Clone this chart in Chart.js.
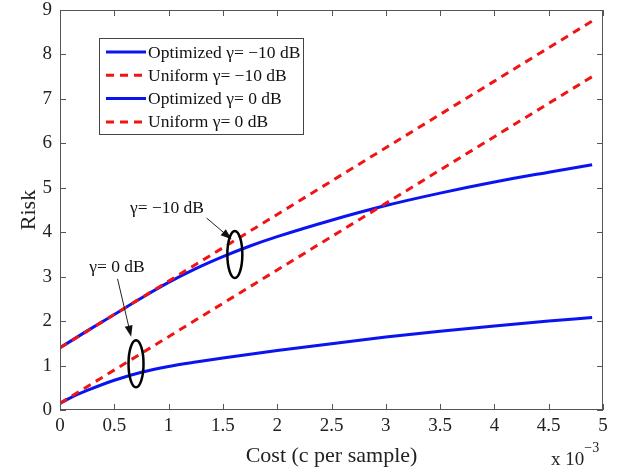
<!DOCTYPE html>
<html>
<head>
<meta charset="utf-8">
<script src="https://cdn.jsdelivr.net/npm/chart.js@4.4.1/dist/chart.umd.min.js"></script>
<style>
  html, body { margin: 0; padding: 0; background: #fff; }
  #wrap { width: 623px; height: 470px; }
</style>
</head>
<body>
<div id="wrap"><canvas id="riskChart"></canvas></div>
<script>
// Tick labels (cost in units of 10^-3)
const costTicks = [0, 0.5, 1, 1.5, 2, 2.5, 3, 3.5, 4, 4.5, 5];
const riskTicks = [0, 1, 2, 3, 4, 5, 6, 7, 8, 9];

// Optimized curves
const costOpt = [0, 0.25, 0.5, 0.75, 1.0, 1.25, 1.5, 1.75, 2.0, 2.5, 3.0, 3.5, 4.0, 4.5, 4.9];
const riskOptM10 = [1.40, 1.78, 2.15, 2.52, 2.87, 3.18, 3.45, 3.69, 3.90, 4.27, 4.60, 4.88, 5.13, 5.35, 5.52];
const costOpt0 = [0, 0.1, 0.25, 0.5, 0.75, 1.0, 1.25, 1.5, 2.0, 2.5, 3.0, 3.5, 4.0, 4.5, 4.9];
const riskOpt0 = [0.15, 0.28, 0.44, 0.67, 0.85, 0.98, 1.08, 1.17, 1.34, 1.49, 1.64, 1.77, 1.89, 2.00, 2.08];

// Uniform curves (straight lines)
const costUni = [0, 1, 2, 3, 4, 4.9];
const riskUniM10 = [1.40, 2.90, 4.40, 5.90, 7.40, 8.75];
const riskUni0 = [0.15, 1.65, 3.15, 4.65, 6.15, 7.50];

const labels = ['Optimized \u03b3= \u221210 dB', 'Uniform \u03b3= \u221210 dB', 'Optimized \u03b3= 0 dB', 'Uniform \u03b3= 0 dB'];

const BLUE = '#0a14f0';
const RED = '#f01414';
const SERIF = '"Liberation Serif", "DejaVu Serif", serif';

function pts(xs, ys) {
    return xs.map((x, i) => ({ x: x, y: ys[i] }));
}

// Callouts: ellipse around a pair of curves, arrow from the label to the ellipse
const callouts = [
    { text: '\u03b3= \u221210 dB', tx: 0.985, ty: 4.53, ax0: 1.35, ay0: 4.32, ax1: 1.58, ay1: 3.84, ex: 1.61, ey: 3.50 },
    { text: '\u03b3= 0 dB', tx: 0.525, ty: 3.20, ax0: 0.53, ay0: 2.95, ax1: 0.655, ay1: 1.65, ex: 0.70, ey: 1.04 }
];

const matlabAxes = {
    id: 'matlabAxes',
    afterDraw(chart) {
        const ctx = chart.ctx;
        const a = chart.chartArea;
        const xs = chart.scales.x, ys = chart.scales.y;
        ctx.save();

        // box and inward ticks
        ctx.strokeStyle = '#555';
        ctx.lineWidth = 1;
        ctx.strokeRect(a.left + 0.5, a.top + 0.5, a.right - a.left - 1, a.bottom - a.top - 1);
        ctx.beginPath();
        costTicks.forEach(v => {
            const px = Math.round(xs.getPixelForValue(v)) + 0.5;
            ctx.moveTo(px, a.bottom); ctx.lineTo(px, a.bottom - 6);
            ctx.moveTo(px, a.top); ctx.lineTo(px, a.top + 6);
        });
        riskTicks.forEach(v => {
            const py = Math.round(ys.getPixelForValue(v)) + 0.5;
            ctx.moveTo(a.left, py); ctx.lineTo(a.left + 6, py);
            ctx.moveTo(a.right, py); ctx.lineTo(a.right - 6, py);
        });
        ctx.stroke();

        // exponent label
        ctx.fillStyle = '#222';
        ctx.textBaseline = 'alphabetic';
        ctx.textAlign = 'left';
        ctx.font = '19px ' + SERIF;
        ctx.fillText('x 10', 551, 465);
        const w = ctx.measureText('x 10').width;
        ctx.font = '14px ' + SERIF;
        ctx.fillText('\u22123', 551 + w, 452);

        // callouts
        callouts.forEach(c => {
            ctx.font = '17.5px ' + SERIF;
            ctx.textAlign = 'center';
            ctx.textBaseline = 'middle';
            ctx.fillStyle = '#111';
            ctx.fillText(c.text, xs.getPixelForValue(c.tx), ys.getPixelForValue(c.ty));

            const x0 = xs.getPixelForValue(c.ax0), y0 = ys.getPixelForValue(c.ay0);
            const x1 = xs.getPixelForValue(c.ax1), y1 = ys.getPixelForValue(c.ay1);
            const ang = Math.atan2(y1 - y0, x1 - x0);
            ctx.strokeStyle = '#222';
            ctx.lineWidth = 1;
            ctx.beginPath();
            ctx.moveTo(x0, y0);
            ctx.lineTo(x1 - 8 * Math.cos(ang), y1 - 8 * Math.sin(ang));
            ctx.stroke();
            ctx.beginPath();
            ctx.moveTo(x1, y1);
            ctx.lineTo(x1 - 11 * Math.cos(ang) + 4 * Math.sin(ang), y1 - 11 * Math.sin(ang) - 4 * Math.cos(ang));
            ctx.lineTo(x1 - 11 * Math.cos(ang) - 4 * Math.sin(ang), y1 - 11 * Math.sin(ang) + 4 * Math.cos(ang));
            ctx.closePath();
            ctx.fillStyle = '#111';
            ctx.fill();

            ctx.strokeStyle = '#000';
            ctx.lineWidth = 2.5;
            ctx.beginPath();
            ctx.ellipse(xs.getPixelForValue(c.ex), ys.getPixelForValue(c.ey), 7.5, 23.5, 0, 0, Math.PI * 2);
            ctx.stroke();
        });

        // legend box
        const lx = 99, ly = 38, lw = 204, lh = 96;
        ctx.fillStyle = '#fff';
        ctx.fillRect(lx, ly, lw, lh);
        ctx.strokeStyle = '#444';
        ctx.lineWidth = 1;
        ctx.strokeRect(lx + 0.5, ly + 0.5, lw, lh);
        ctx.font = '17.5px ' + SERIF;
        ctx.textAlign = 'left';
        ctx.textBaseline = 'middle';
        chart.data.datasets.forEach((ds, i) => {
            const yy = ly + 14 + i * 23.3;
            ctx.strokeStyle = ds.borderColor;
            ctx.lineWidth = ds.borderWidth;
            ctx.setLineDash(ds.borderDash || []);
            ctx.beginPath();
            ctx.moveTo(lx + 7, yy);
            ctx.lineTo(lx + 47, yy);
            ctx.stroke();
            ctx.setLineDash([]);
            ctx.fillStyle = '#111';
            ctx.fillText(ds.label, lx + 49, yy + 1);
        });
        ctx.restore();
    }
};

const ctx = document.getElementById('riskChart').getContext('2d');
const riskChart = new Chart(ctx, {
    type: 'line',
    data: {
        datasets: [
            { label: labels[0], data: pts(costOpt, riskOptM10), borderColor: BLUE, borderWidth: 3, order: 2, cubicInterpolationMode: 'monotone' },
            { label: labels[1], data: pts(costUni, riskUniM10), borderColor: RED, borderWidth: 3, borderDash: [8, 6], order: 1 },
            { label: labels[2], data: pts(costOpt0, riskOpt0), borderColor: BLUE, borderWidth: 3, order: 2, cubicInterpolationMode: 'monotone' },
            { label: labels[3], data: pts(costUni, riskUni0), borderColor: RED, borderWidth: 3, borderDash: [8, 6], order: 1 }
        ]
    },
    options: {
        responsive: true,
        maintainAspectRatio: false,
        animation: false,
        layout: { padding: { top: 10, right: 20, left: 0, bottom: 0 }, autoPadding: false },
        elements: { point: { radius: 0 }, line: { fill: false } },
        plugins: { legend: { display: false }, tooltip: { enabled: false } },
        scales: {
            x: {
                type: 'linear', min: 0, max: 5,
                afterFit(scale) { scale.height = 60; scale.paddingLeft = 0; scale.paddingRight = 0; },
                afterBuildTicks(scale) { scale.ticks = costTicks.map(v => ({ value: v })); },
                grid: { display: false, drawTicks: false },
                border: { display: false },
                ticks: { padding: 5, color: '#222', font: { family: SERIF, size: 19 }, maxRotation: 0, autoSkip: false, callback: v => String(v) },
                title: { display: true, text: 'Cost (c per sample)', color: '#222', font: { family: SERIF, size: 22 }, padding: { top: 0, bottom: 1 } }
            },
            y: {
                type: 'linear', min: 0, max: 9,
                afterFit(scale) { scale.width = 60; scale.paddingTop = 0; scale.paddingBottom = 0; },
                afterBuildTicks(scale) { scale.ticks = riskTicks.map(v => ({ value: v })); },
                grid: { display: false, drawTicks: false },
                border: { display: false },
                ticks: { padding: 8, color: '#222', font: { family: SERIF, size: 19 }, callback: v => String(v) },
                title: { display: true, text: 'Risk', color: '#222', font: { family: SERIF, size: 22 }, padding: { top: 16, bottom: 0 } }
            }
        }
    },
    plugins: [matlabAxes]
});
</script>
</body>
</html>
